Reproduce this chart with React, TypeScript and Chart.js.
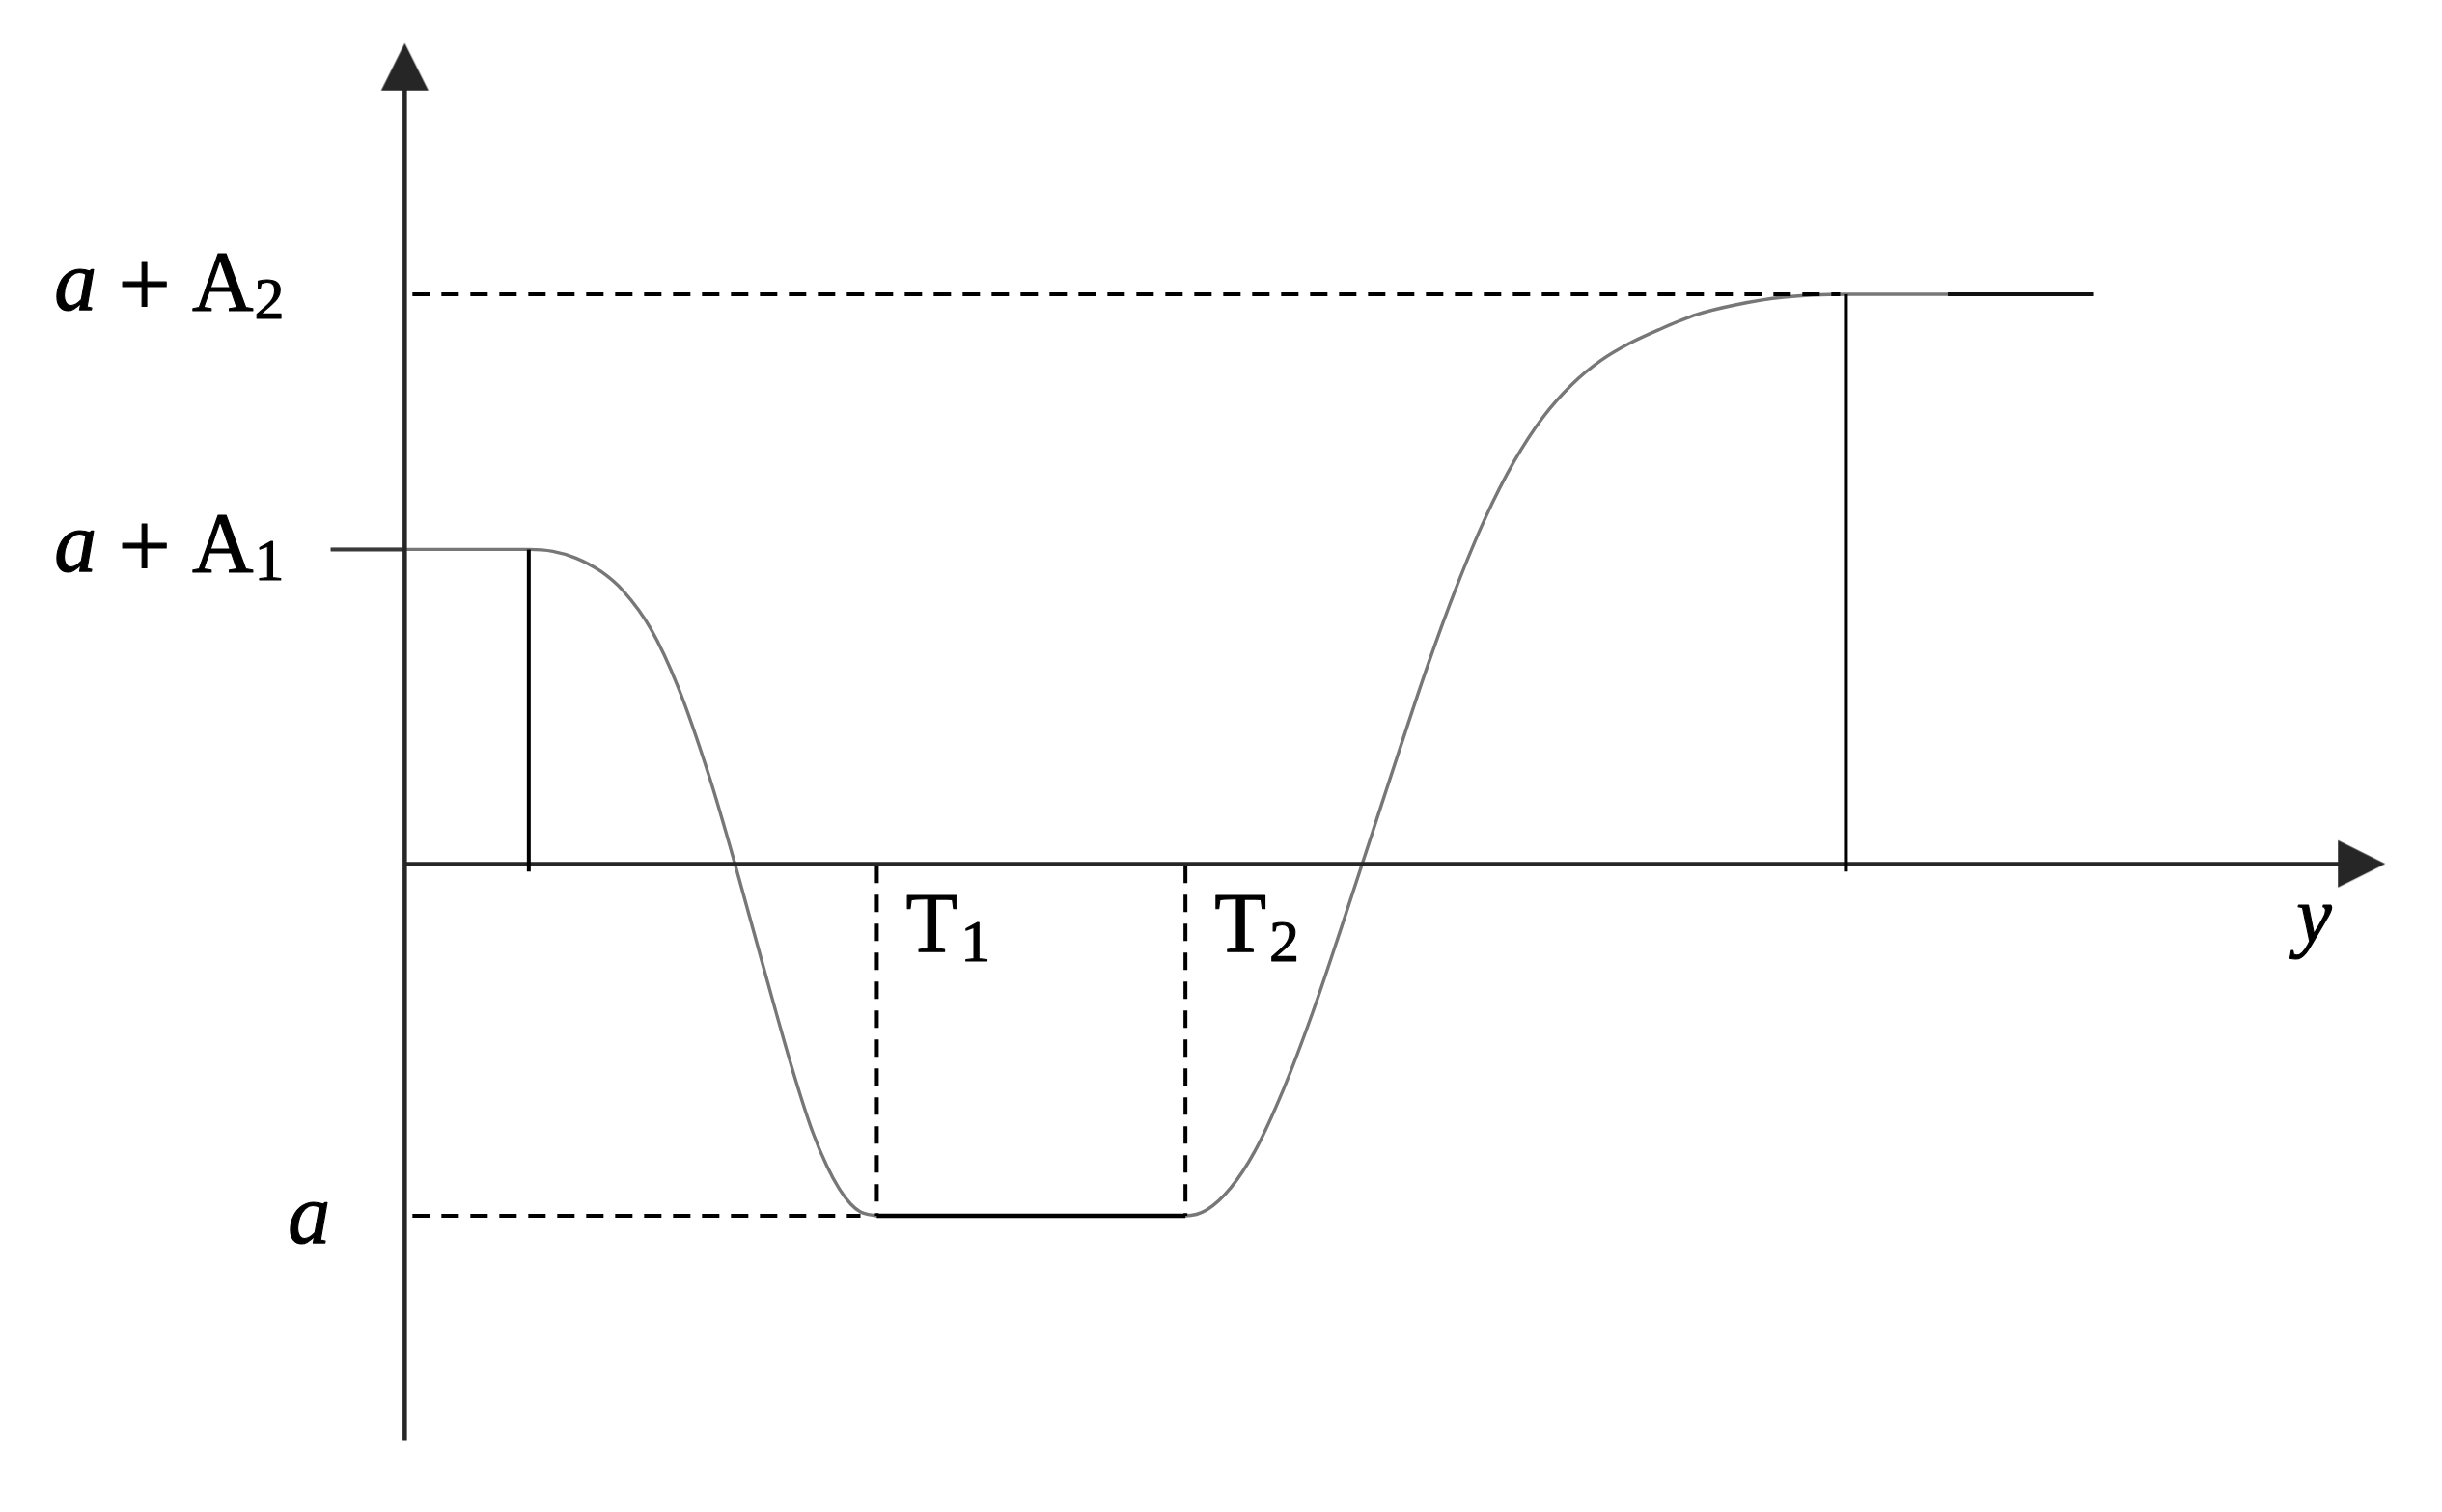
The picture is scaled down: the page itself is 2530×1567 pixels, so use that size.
import React, { useEffect, useRef } from 'react';
import { Chart, registerables } from 'chart.js';

Chart.register(...registerables);

// ---- values (horizontal unit: t, vertical unit: level; axis crossing at 0,0) ----
const levelA = -3.67;
const levelA1 = 3.28;
const levelA2 = 5.94;
const T1 = 4.91;
const T2 = 8.12;
const markStart = 1.29; // solid vertical under a + A1
const markEnd = 14.99; // solid vertical under a + A2

const curveX = [
  -0.77, 1.29, 1.54, 1.78, 2.04, 2.27, 2.56, 2.84, 3.17, 3.44, 3.74, 4.04, 4.24, 4.39, 4.52, 4.64, 4.74, 4.84, 4.91,
  8.12, 8.34, 8.59, 8.84, 9.14, 9.44, 9.74, 10.04, 10.34, 10.64, 10.94, 11.24, 11.54, 11.84, 12.14, 12.44,
  12.74, 13.04, 13.44, 13.84, 14.34, 14.99, 17.56,
];
const curveY = [
  3.28, 3.28, 3.26, 3.19, 3.05, 2.85, 2.45, 1.85, 0.9, -0.02, -1.11, -2.17, -2.79, -3.15, -3.39, -3.55, -3.63, -3.66, -3.67,
  -3.67, -3.61, -3.38, -3.0, -2.35, -1.56, -0.67, 0.25, 1.17, 2.07, 2.89, 3.61, 4.2, 4.66, 5.0, 5.25,
  5.43, 5.57, 5.73, 5.83, 5.91, 5.94, 5.94,
];

// axis extents
const yAxisBottom = -6.01;
const yAxisTip = 8.56;
const xAxisTip = 20.6;
// guide extents
const guideStart = 0.08;
const dashA2End = 14.93;
const dashAEnd = 4.74;
const markBelow = -0.08;
const leadEnd = 0; // dark lead-in of the a + A1 plateau ends at the vertical axis
const tailStart = 16.05; // dark part of the a + A2 plateau

// labels
type Part = { t: string; it?: boolean; sub?: boolean; big?: boolean; drop?: number };
const levelLabelParts: Part[][] = [
  [{ t: 'a', it: true }, { t: ' ' }, { t: '+', big: true, drop: 6 }, { t: ' ' }, { t: 'A' }, { t: '2', sub: true }],
  [{ t: 'a', it: true }, { t: ' ' }, { t: '+', big: true, drop: 6 }, { t: ' ' }, { t: 'A' }, { t: '1', sub: true }],
  [{ t: 'a', it: true }],
];
const levelLabelValues = [levelA2, levelA1, levelA];
const timeLabelParts: Part[][] = [
  [{ t: 'T' }, { t: '1', sub: true }],
  [{ t: 'T' }, { t: '2', sub: true }],
];
const timeLabelValues = [T1, T2];
const axisTitle = 'y';

const X_MIN = -4.16;
const X_MAX = 21.14;
const Y_MIN = -6.71;
const Y_MAX = 8.96;

const FONT = '"Liberation Serif", "Times New Roman", serif';

function makeArrow(color: string): HTMLCanvasElement {
  const c = document.createElement('canvas');
  c.width = 100;
  c.height = 100;
  const g = c.getContext('2d')!;
  g.fillStyle = color;
  g.beginPath();
  g.moveTo(50, 50);
  g.lineTo(50 - 24.5, 99);
  g.lineTo(50 + 24.5, 99);
  g.closePath();
  g.fill();
  return c;
}

function seg(xs: number[], ys: number[], color: string, width: number, dash: number[] = [], order = 5, smooth = false) {
  return {
    data: xs.map((x, i) => ({ x, y: ys[i] })),
    borderColor: color,
    backgroundColor: color,
    borderWidth: width,
    borderDash: dash,
    borderCapStyle: 'butt' as const,
    pointRadius: 0,
    showLine: true,
    fill: false,
    tension: 0,
    cubicInterpolationMode: smooth ? ('monotone' as const) : ('default' as const),
    order,
  };
}

function drawRich(ctx: CanvasRenderingContext2D, parts: Part[], x: number, y: number, size: number, subSize: number, subDrop: number, subGap: number) {
  let cx = x;
  for (const p of parts) {
    const fs = p.sub ? subSize : p.big ? Math.round(size * 1.1) : size;
    ctx.font = `${p.it ? 'italic ' : ''}${fs}px ${FONT}`;
    if (p.sub) cx += subGap;
    const yy = (p.sub ? y + subDrop : y) + (p.drop || 0);
    ctx.fillText(p.t, cx, yy);
    ctx.strokeText(p.t, cx, yy);
    cx += ctx.measureText(p.t).width;
  }
}

const labelPlugin = {
  id: 'richLabels',
  afterDatasetsDraw(chart: any) {
    const ctx: CanvasRenderingContext2D = chart.ctx;
    const xs = chart.scales.x;
    const ys = chart.scales.y;
    const axisX = xs.getPixelForValue(0);
    const axisY = ys.getPixelForValue(0);
    ctx.save();
    ctx.fillStyle = '#000';
    ctx.strokeStyle = '#000';
    ctx.lineWidth = 1.1;
    ctx.lineJoin = 'round';
    ctx.textBaseline = 'alphabetic';
    ctx.textAlign = 'left';
    const levelOffsets = [16, 23, 28];
    const levelLeft = [axisX - 363, axisX - 363, axisX - 121];
    levelLabelParts.forEach((parts, i) => {
      const py = ys.getPixelForValue(levelLabelValues[i]) + levelOffsets[i];
      drawRich(ctx, parts, levelLeft[i], py, 88, 62, 9, 1);
    });
    timeLabelParts.forEach((parts, i) => {
      const px = xs.getPixelForValue(timeLabelValues[i]) + 30;
      drawRich(ctx, parts, px, axisY + 91, 88, 62, 10, 3);
    });
    ctx.font = `italic 82px ${FONT}`;
    const tx = xs.getPixelForValue(xAxisTip) - 92;
    ctx.fillText(axisTitle, tx, axisY + 81);
    ctx.strokeText(axisTitle, tx, axisY + 81);
    ctx.restore();
  },
};

export default function App() {
  const ref = useRef<HTMLCanvasElement | null>(null);
  useEffect(() => {
    document.body.style.margin = '0';
    document.body.style.overflow = 'hidden';
    const canvas = ref.current!;
    const axisColor = '#262626';
    const arrow = makeArrow(axisColor);
    let alive = true;
    const chart = new Chart(canvas, {
      type: 'line',
      data: {
        datasets: [
          {
            data: [{ x: 0, y: yAxisTip }],
            showLine: false,
            pointStyle: arrow as any,
            pointRadius: 1,
            pointRotation: 0,
            order: 0,
          } as any,
          {
            data: [{ x: xAxisTip, y: 0 }],
            showLine: false,
            pointStyle: arrow as any,
            pointRadius: 1,
            pointRotation: 90,
            order: 0,
          } as any,
          seg([0, 0], [yAxisBottom, yAxisTip - 0.3], axisColor, 4.5, [], 2),
          seg([0, xAxisTip - 0.3], [0, 0], axisColor, 4, [], 2),
          seg([markStart, markStart], [levelA1, markBelow], '#000', 4, [], 1),
          seg([markEnd, markEnd], [levelA2, markBelow], '#000', 4, [], 1),
          seg([T1, T1], [-0.02, levelA], '#000', 4, [18, 12], 1),
          seg([T2, T2], [-0.02, levelA], '#000', 4, [18, 12], 1),
          seg([guideStart, dashA2End], [levelA2, levelA2], '#000', 4, [18, 12], 3),
          seg([guideStart, dashAEnd], [levelA, levelA], '#000', 4, [18, 12], 3),
          seg([T1, T2], [levelA, levelA], '#000', 4.5, [], 3),
          seg([curveX[0], leadEnd], [levelA1, levelA1], '#3a3a3a', 4, [], 3),
          seg([tailStart, curveX[curveX.length - 1]], [levelA2, levelA2], '#111', 4, [], 3),
          seg(curveX, curveY, '#777777', 3.4, [], 4, true),
        ],
      },
      options: {
        responsive: false,
        animation: false,
        devicePixelRatio: 1,
        events: [],
        layout: { padding: 0 },
        plugins: { legend: { display: false }, tooltip: { enabled: false }, title: { display: false } },
        scales: {
          x: { type: 'linear', display: false, min: X_MIN, max: X_MAX },
          y: { type: 'linear', display: false, min: Y_MIN, max: Y_MAX },
        },
      },
      plugins: [labelPlugin],
    });
    if ((document as any).fonts && (document as any).fonts.load) {
      Promise.all([
        (document as any).fonts.load('88px "Liberation Serif"'),
        (document as any).fonts.load('italic 88px "Liberation Serif"'),
      ])
        .then(() => {
          if (alive) chart.update();
        })
        .catch(() => {});
    }
    return () => {
      alive = false;
      chart.destroy();
    };
  }, []);
  return (
    <div style={{ position: 'absolute', left: 0, top: 0, width: 2530, height: 1567, background: '#fff' }}>
      <canvas ref={ref} width={2530} height={1567} style={{ display: 'block' }} />
    </div>
  );
}
